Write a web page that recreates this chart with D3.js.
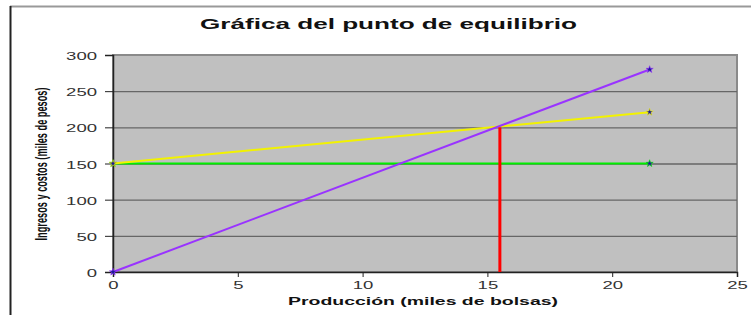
<!DOCTYPE html>
<html>
<head>
<meta charset="utf-8">
<script src="https://cdn.jsdelivr.net/npm/d3@7"></script>
<style>
  body { margin: 0; background: #fff; }
  svg text { font-family: "Liberation Sans", Arial, sans-serif; }
</style>
</head>
<body>
<svg id="chart" width="751" height="315"></svg>
<script>
// data
const produccion = [0, 21.5];
const ingresos = [0, 280];
const costosTotales = [150, 221];
const costosFijos = [150, 150];
const equilibrioX = 15.5;
const equilibrioY = 200;
const xTicks = [0, 5, 10, 15, 20, 25];
const yTicks = [0, 50, 100, 150, 200, 250, 300];

const svg = d3.select("#chart");

const plot = { left: 113, right: 737, top: 55, bottom: 272 };

const x = d3.scaleLinear().domain([0, 25]).range([plot.left, plot.right]);
const y = d3.scaleLinear().domain([0, 300]).range([plot.bottom, plot.top]);

// outer frame
svg.append("line").attr("x1", 10).attr("x2", 751).attr("y1", 6.5).attr("y2", 6.5)
  .attr("stroke", "#999").attr("stroke-width", 2);
svg.append("line").attr("x1", 10.5).attr("x2", 10.5).attr("y1", 6).attr("y2", 315)
  .attr("stroke", "#222").attr("stroke-width", 2);

// plot area
svg.append("rect")
  .attr("x", plot.left).attr("y", plot.top)
  .attr("width", plot.right - plot.left).attr("height", plot.bottom - plot.top)
  .attr("fill", "#c0c0c0").attr("stroke", "#8a8a8a").attr("stroke-width", 2);

// gridlines
svg.append("g")
  .selectAll("line")
  .data(yTicks.filter(d => d > 0 && d < 300))
  .join("line")
  .attr("x1", plot.left).attr("x2", plot.right)
  .attr("y1", d => y(d) + 0.5).attr("y2", d => y(d) + 0.5)
  .attr("stroke", "#666").attr("stroke-width", 1.3);

// axes
const yAxis = d3.axisLeft(y).tickValues(yTicks).tickSize(8).tickPadding(8);
const gy = svg.append("g").attr("transform", `translate(${plot.left},0)`).call(yAxis);
gy.select(".domain").attr("stroke", "#222").attr("stroke-width", 1.5);
gy.selectAll(".tick line").attr("stroke", "#222");
gy.selectAll(".tick text")
  .attr("font-size", 11.5).attr("fill", "#333").attr("dy", "0.4em")
  .attr("textLength", d => String(d).length * 10.3)
  .attr("lengthAdjust", "spacingAndGlyphs");

const xAxis = d3.axisBottom(x).tickValues(xTicks).tickSize(5).tickPadding(4);
const gx = svg.append("g").attr("transform", `translate(0,${plot.bottom})`).call(xAxis);
gx.select(".domain").attr("stroke", "#222").attr("stroke-width", 1.5);
gx.selectAll(".tick line").attr("stroke", "#222");
gx.selectAll(".tick text")
  .attr("font-size", 11.5).attr("fill", "#333")
  .attr("textLength", d => String(d).length * 10.3)
  .attr("lengthAdjust", "spacingAndGlyphs");

// series
const series = [
  { name: "Costos fijos", values: costosFijos, color: "#00ee00" },
  { name: "Costos totales", values: costosTotales, color: "#f2f200" },
  { name: "Ingresos", values: ingresos, color: "#9933ff" }
];

const line = d3.line().x(d => x(d[0])).y(d => y(d[1]));

series.forEach(s => {
  const pts = produccion.map((p, i) => [p, s.values[i]]);
  svg.append("path")
    .datum(pts)
    .attr("d", line)
    .attr("fill", "none")
    .attr("stroke", s.color)
    .attr("stroke-width", 2);
  svg.append("g")
    .selectAll("path")
    .data(pts)
    .join("path")
    .attr("transform", d => `translate(${x(d[0])},${y(d[1])})`)
    .attr("d", d3.symbol(d3.symbolStar, 16))
    .attr("fill", "#1a1a9a")
    .attr("stroke", s.color).attr("stroke-width", 0.6);
});

// equilibrium line
svg.append("line")
  .attr("x1", x(equilibrioX)).attr("x2", x(equilibrioX))
  .attr("y1", y(0)).attr("y2", y(equilibrioY))
  .attr("stroke", "#ff0000").attr("stroke-width", 3);

// titles
svg.append("text")
  .attr("x", 200).attr("y", 29)
  .attr("font-size", 15).attr("font-weight", "bold").attr("fill", "#111")
  .attr("textLength", 377).attr("lengthAdjust", "spacingAndGlyphs")
  .text("Gráfica del punto de equilibrio");

svg.append("text")
  .attr("x", 288).attr("y", 305)
  .attr("font-size", 11).attr("font-weight", "bold").attr("fill", "#111")
  .attr("textLength", 270).attr("lengthAdjust", "spacingAndGlyphs")
  .text("Producción (miles de bolsas)");

// y title: squeezed to its length in the picture
const yTitle = svg.append("text")
  .attr("font-size", 16).attr("font-weight", "bold").attr("fill", "#111")
  .attr("text-anchor", "middle")
  .text("Ingresos y costos (miles de pesos)");
const natural = yTitle.node().getComputedTextLength();
yTitle.attr("transform", `translate(47,164) rotate(-90) scale(${153 / natural},1)`);
</script>
</body>
</html>
